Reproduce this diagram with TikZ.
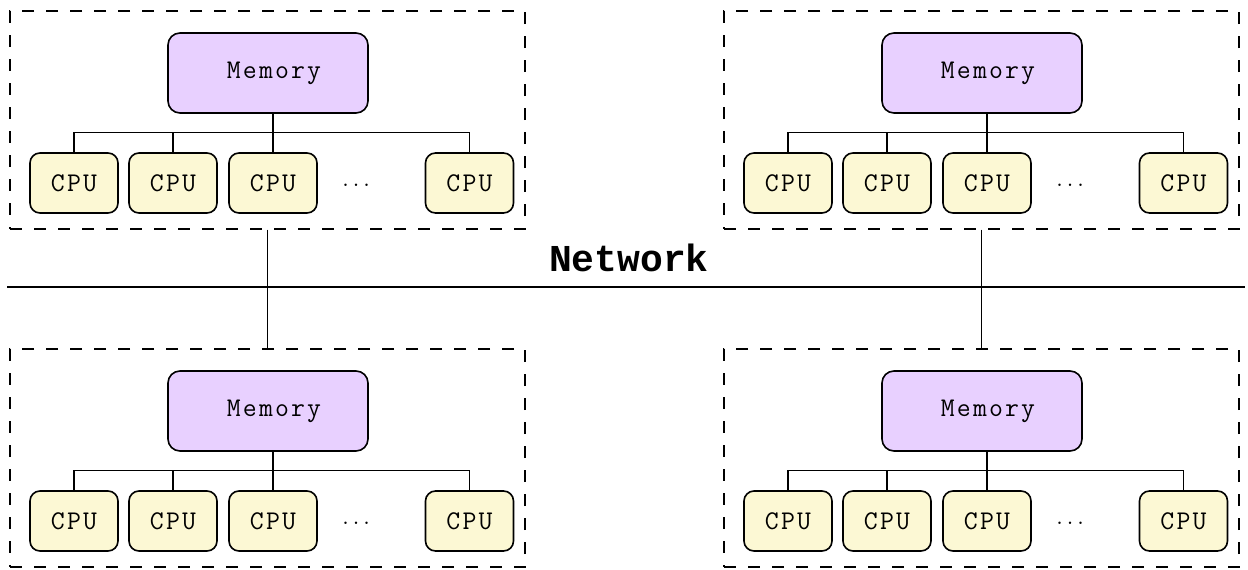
\documentclass[tikz,border=0pt]{standalone}
\usepackage{fontspec}
\newfontfamily\netmono{Liberation Mono}
\newfontfamily\boxmono{Latin Modern Mono}[LetterSpace=8]
\definecolor{memfill}{RGB}{232,208,255}
\definecolor{cpufill}{RGB}{252,248,212}
\newcommand\boxfont{\boxmono\fontsize{27}{32}\selectfont}
\newcommand\netfont{\netmono\bfseries\fontsize{38}{44}\selectfont}
\begin{document}
\begin{tikzpicture}[x=1pt,y=-1pt,
  group/.style={draw, dash pattern=on 12pt off 12pt, line width=1.4pt,
    minimum width=515pt, minimum height=218pt, inner sep=0pt},
  membox/.style={draw, rounded corners=12pt, fill=memfill, line width=1.6pt,
    minimum width=200pt, minimum height=80pt, font=\boxfont},
  cpubox/.style={draw, rounded corners=10pt, fill=cpufill, line width=1.6pt,
    minimum width=88pt, minimum height=60pt, font=\boxfont},
  wire/.style={line width=1.4pt},
  dotsnode/.style={font=\fontsize{30}{34}\selectfont}]
\useasboundingbox (0,0) rectangle (1248,570);

% four shared-memory nodes
\foreach \g/\dx/\dy in {1/0/0, 2/714/0, 3/0/338, 4/714/338} {
  \node[group] (grp\g) at (267.5+\dx, 120+\dy) {};
  \node[membox] (mem\g) at (268+\dx, 73+\dy) {\hspace*{12pt}Memory};
  \node[cpubox] (cpu\g-a) at (74+\dx, 183+\dy) {CPU};
  \node[cpubox] (cpu\g-b) at (173+\dx, 183+\dy) {CPU};
  \node[cpubox] (cpu\g-c) at (273+\dx, 183+\dy) {CPU};
  \node[dotsnode] (dots\g) at (356+\dx, 185+\dy) {.\kern3pt.\kern3pt.};
  \node[cpubox] (cpu\g-e) at (469.5+\dx, 183+\dy) {CPU};
  % memory bus
  \draw[wire] (cpu\g-a.north) -- ++(0,-20) -| (cpu\g-e.north);
  \draw[wire] (cpu\g-b.north) -- ++(0,-20);
  \draw[wire] (cpu\g-c.north) -- (cpu\g-c.north |- mem\g.south);
}

% interconnect
\coordinate (netL) at (7,287);
\coordinate (netR) at (1245,287);
\draw[wire] (netL) -- (netR);
\node[font=\netfont] (netlabel) at (629,258) {Network};
\draw[wire] (grp1.south) -- (grp3.north);
\draw[wire] (grp2.south) -- (grp4.north);
\end{tikzpicture}
\end{document}
